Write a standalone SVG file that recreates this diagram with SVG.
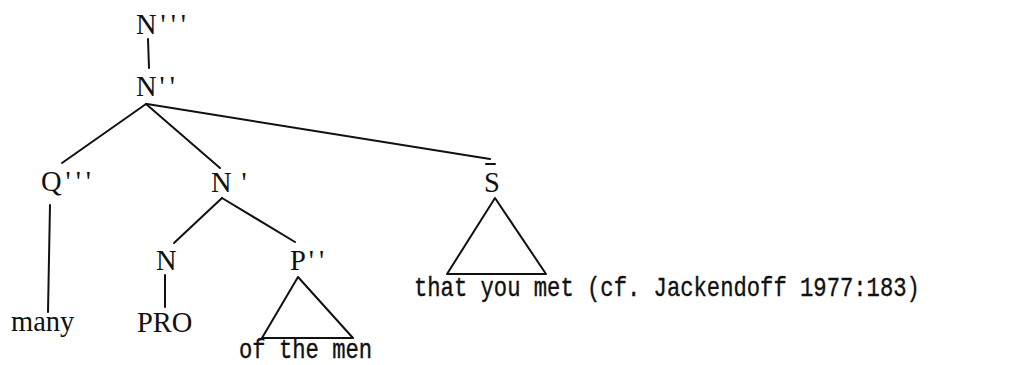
<svg xmlns="http://www.w3.org/2000/svg" width="1021" height="365" viewBox="0 0 1021 365">
<style>
.lbl{font-family:"Liberation Serif","Times New Roman",serif;font-size:28.5px;fill:#111}
.pr{letter-spacing:5px}
.tw{font-family:"Liberation Mono","Courier New",monospace;font-size:22.2px;fill:#111;stroke:#111;stroke-width:0.3}
.edge{stroke:#111;stroke-width:2;fill:none;stroke-linecap:round;stroke-linejoin:round}
</style>
<rect width="1021" height="365" fill="#fff"/>
<g id="connectors">
<line class="edge" x1="148" y1="39" x2="149" y2="68"/>
<line class="edge" x1="146" y1="104" x2="62" y2="163"/>
<line class="edge" x1="146" y1="104" x2="220" y2="168"/>
<line class="edge" x1="147" y1="104" x2="490" y2="159"/>
<line class="edge" x1="50" y1="205" x2="48" y2="312"/>
<line class="edge" x1="222" y1="198" x2="174" y2="243"/>
<line class="edge" x1="222" y1="198" x2="295" y2="242"/>
<line class="edge" x1="165" y1="275" x2="165" y2="307"/>
<polygon class="edge" points="298,277 262,338 353,338"/>
<polygon class="edge" points="495,198 447,274 546,274"/>
</g>
<g id="n3"><text class="lbl" x="136" y="34">N<tspan class="pr" dx="4">'''</tspan></text></g>
<g id="n2"><text class="lbl" x="136" y="96">N<tspan class="pr" dx="3">''</tspan></text></g>
<g id="q3"><text class="lbl" x="41" y="191">Q<tspan class="pr" dx="4">'''</tspan></text></g>
<g id="n1"><text class="lbl" x="211" y="192">N<tspan dx="10">'</tspan></text></g>
<g id="n0"><text class="lbl" x="156" y="270">N</text></g>
<g id="p2"><text class="lbl" x="290" y="270">P<tspan class="pr" dx="3">''</tspan></text></g>
<g id="sbar"><text class="lbl" x="484" y="192">S</text><line class="edge" x1="486" y1="164" x2="495" y2="164"/></g>
<g id="many"><text class="lbl" x="11" y="331">many</text></g>
<g id="pro"><text class="lbl" x="137" y="332">PRO</text></g>
<g id="ofthemen"><text class="tw" transform="translate(239,358) scale(1,1.22)">of the men</text></g>
<g id="thatyoumet"><text class="tw" transform="translate(414,296) scale(1,1.25)">that you met (cf. Jackendoff 1977:183)</text></g>
</svg>
